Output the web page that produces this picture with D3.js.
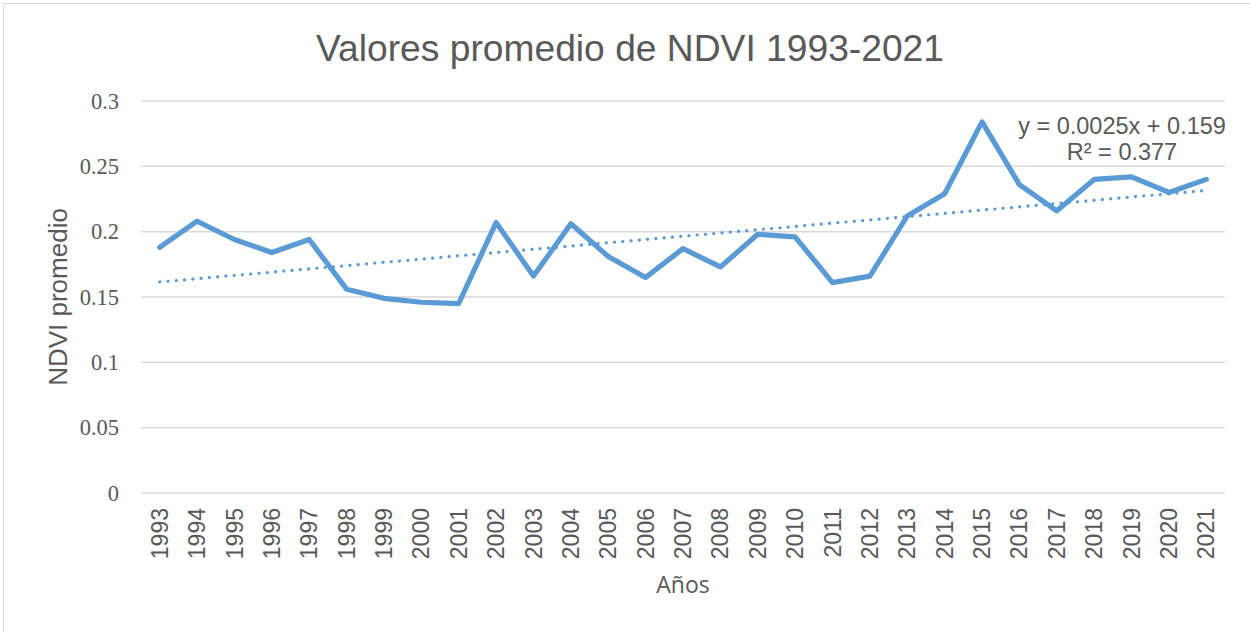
<!DOCTYPE html>
<html>
<head>
<meta charset="utf-8">
<script src="https://cdn.jsdelivr.net/npm/d3@7"></script>
<style>
  body { margin: 0; background: #fff; }
  text { fill: #595959; }
</style>
</head>
<body>
<div id="chart"></div>
<script>
// Dimensiones
var width = 1250;
var height = 632;
var margin = { top: 101, right: 25, bottom: 139, left: 141 };

// Datos
var years = ["1993","1994","1995","1996","1997","1998","1999","2000","2001","2002",
  "2003","2004","2005","2006","2007","2008","2009","2010","2011","2012","2013",
  "2014","2015","2016","2017","2018","2019","2020","2021"];
var ndvi = [0.188, 0.208, 0.194, 0.184, 0.194, 0.156, 0.149, 0.146, 0.145, 0.207,
  0.166, 0.206, 0.181, 0.165, 0.187, 0.173, 0.198, 0.196, 0.161, 0.166, 0.212,
  0.229, 0.284, 0.236, 0.216, 0.240, 0.242, 0.230, 0.240];
var yTicks = [0, 0.05, 0.1, 0.15, 0.2, 0.25, 0.3];
var trendSlope = 0.0025;
var trendIntercept = 0.159;

var svg = d3.select("#chart")
  .append("svg")
  .attr("width", width)
  .attr("height", height);

// Borde del gráfico
svg.append("rect")
  .attr("x", 3.5).attr("y", 3.5)
  .attr("width", width + 20).attr("height", height + 20)
  .attr("fill", "none")
  .attr("stroke", "#d9d9d9");

var x = d3.scaleBand()
  .domain(years)
  .range([margin.left, width - margin.right]);

var y = d3.scaleLinear()
  .domain([0, 0.3])
  .range([height - margin.bottom, margin.top]);

// Líneas de cuadrícula
svg.append("g")
  .selectAll("line")
  .data(yTicks)
  .enter()
  .append("line")
  .attr("x1", margin.left)
  .attr("x2", width - margin.right)
  .attr("y1", function(d) { return y(d); })
  .attr("y2", function(d) { return y(d); })
  .attr("stroke", "#d9d9d9")
  .attr("stroke-width", 1.5);

// Etiquetas del eje Y
var yAxis = svg.append("g")
  .attr("transform", "translate(" + (margin.left - 22) + ",0)")
  .call(d3.axisLeft(y).tickValues(yTicks).tickSize(0).tickPadding(0)
    .tickFormat(function(d) { return d3.format("")(+d.toFixed(2)); }));
yAxis.select(".domain").remove();
yAxis.selectAll("text")
  .attr("font-family", "'Liberation Serif', 'Times New Roman', serif")
  .attr("font-size", 22.5)
  .attr("fill", "#595959");

// Etiquetas del eje X
var xAxis = svg.append("g")
  .attr("transform", "translate(0," + (height - margin.bottom) + ")")
  .call(d3.axisBottom(x).tickSize(0));
xAxis.select(".domain").remove();
xAxis.selectAll("text")
  .attr("font-family", "'Liberation Sans', Arial, sans-serif")
  .attr("font-size", 23)
  .attr("fill", "#595959")
  .attr("text-anchor", "end")
  .attr("dy", "0.35em")
  .attr("transform", "translate(0,15) rotate(-90)")
  .attr("x", 0)
  .attr("y", 0);

// Línea de tendencia
var trend = years.map(function(yr, i) { return trendIntercept + trendSlope * (i + 1); });
var line = d3.line()
  .x(function(d, i) { return x(years[i]) + x.bandwidth() / 2; })
  .y(function(d) { return y(d); });

svg.append("path")
  .datum(trend)
  .attr("d", line)
  .attr("fill", "none")
  .attr("stroke", "#5b9bd5")
  .attr("stroke-width", 3.2)
  .attr("stroke-linecap", "round")
  .attr("stroke-dasharray", "0.1 8.2");

// Serie principal
svg.append("path")
  .datum(ndvi)
  .attr("d", line)
  .attr("fill", "none")
  .attr("stroke", "#5b9bd5")
  .attr("stroke-width", 5.2)
  .attr("stroke-linejoin", "round")
  .attr("stroke-linecap", "round");

// Ecuación
svg.append("text")
  .attr("x", 1122).attr("y", 134)
  .attr("text-anchor", "middle")
  .attr("font-family", "'Liberation Sans', Arial, sans-serif")
  .attr("font-size", 23.5)
  .text("y = 0.0025x + 0.159");
svg.append("text")
  .attr("x", 1122).attr("y", 160)
  .attr("text-anchor", "middle")
  .attr("font-family", "'Liberation Sans', Arial, sans-serif")
  .attr("font-size", 23.5)
  .text("R² = 0.377");

// Título
svg.append("text")
  .attr("x", 630).attr("y", 61)
  .attr("text-anchor", "middle")
  .attr("font-family", "'Liberation Sans', Arial, sans-serif")
  .attr("font-size", 36)
  .attr("textLength", 628)
  .attr("lengthAdjust", "spacingAndGlyphs")
  .text("Valores promedio de NDVI 1993-2021");

// Títulos de los ejes
svg.append("text")
  .attr("transform", "translate(67,297) rotate(-90)")
  .attr("text-anchor", "middle")
  .attr("font-family", "'Liberation Sans', Arial, sans-serif")
  .attr("font-size", 26)
  .text("NDVI promedio");

svg.append("text")
  .attr("x", 683).attr("y", 593)
  .attr("text-anchor", "middle")
  .attr("font-family", "'Open Sans', 'Liberation Sans', sans-serif")
  .attr("font-size", 23)
  .text("Años");
</script>
</body>
</html>
